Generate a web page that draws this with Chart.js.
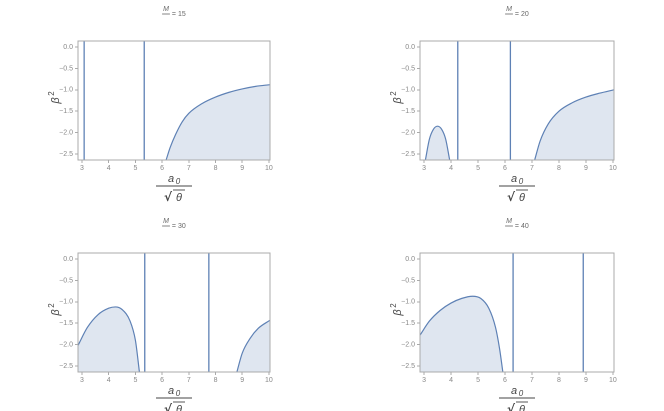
<!DOCTYPE html><html><head><script src="https://cdn.jsdelivr.net/npm/chart.js@4"></script>
<style>body{margin:0;width:664px;height:411px;background:#fff;position:relative}canvas{position:absolute}</style></head><body>
<canvas id="c0" style="left:0;top:0;width:332px;height:205px"></canvas>
<canvas id="c1" style="left:332px;top:0;width:332px;height:205px"></canvas>
<canvas id="c2" style="left:0;top:205px;width:332px;height:206px"></canvas>
<canvas id="c3" style="left:332px;top:205px;width:332px;height:206px"></canvas>
<script>
const xTicks=[3,4,5,6,7,8,9,10];
const yTicks=[0,-0.5,-1,-1.5,-2,-2.5];
const massValues=[15,20,30,40];
const poles15=[3.08,5.33];
const poles20=[4.25,6.2];
const poles30=[5.35,7.75];
const poles40=[6.3,8.9];
const curves15=[[[6.15,-2.64],[6.3,-2.35],[6.5,-2.05],[6.75,-1.75],[7,-1.55],[7.5,-1.32],[8,-1.17],[8.5,-1.06],[9,-0.98],[9.5,-0.92],[10.04,-0.88]]];
const curves20=[[[3.05,-2.64],[3.2,-2.15],[3.35,-1.92],[3.5,-1.85],[3.65,-1.92],[3.8,-2.15],[3.95,-2.64]],
 [[7.1,-2.64],[7.3,-2.2],[7.6,-1.8],[8,-1.5],[8.5,-1.3],[9,-1.17],[9.5,-1.08],[10.04,-1.0]]];
const curves30=[[[2.85,-2.02],[3.2,-1.6],[3.6,-1.3],[4.0,-1.15],[4.25,-1.12],[4.5,-1.18],[4.8,-1.45],[5.0,-1.9],[5.15,-2.64]],
 [[8.8,-2.64],[9.0,-2.2],[9.3,-1.85],[9.6,-1.62],[10.04,-1.43]]];
const curves40=[[[2.85,-1.78],[3.2,-1.45],[3.6,-1.2],[4,-1.03],[4.4,-0.92],[4.8,-0.87],[5.1,-0.92],[5.4,-1.15],[5.65,-1.6],[5.8,-2.1],[5.92,-2.64]]];
const poles=[poles15,poles20,poles30,poles40];
const curves=[curves15,curves20,curves30,curves40];
const XMIN=2.85,XMAX=10.04,YMIN=-2.64,YMAX=0.14;
const pads=[{l:78,r:62,t:41,b:45},{l:88,r:50,t:41,b:45},{l:78,r:62,t:48,b:39},{l:88,r:50,t:48,b:39}];
const LINE='#5e81b5',FILL='rgba(94,129,181,0.2)',GREY='#888';
function frac(ctx,num,den,x,y,size,col){ctx.fillStyle=col;ctx.strokeStyle=col;ctx.textAlign='center';ctx.textBaseline='alphabetic';
 ctx.font='italic '+size+'px "Liberation Sans"';const w=Math.max(ctx.measureText(num).width,ctx.measureText(den).width)+2;
 ctx.fillText(num,x,y-3);ctx.beginPath();ctx.lineWidth=0.8;ctx.moveTo(x-w/2,y);ctx.lineTo(x+w/2,y);ctx.stroke();return w;}
for(let i=0;i<4;i++){
 const ds=[];
 curves[i].forEach(c=>ds.push({data:c.map(p=>({x:p[0],y:p[1]})),borderColor:LINE,backgroundColor:FILL,fill:'start',borderWidth:1.2,pointRadius:0,tension:0.4,cubicInterpolationMode:'monotone'}));
 poles[i].forEach(p=>ds.push({data:[{x:p,y:YMIN},{x:p,y:YMAX}],borderColor:LINE,borderWidth:1.3,pointRadius:0,fill:false}));
 const P=pads[i];
 new Chart(document.getElementById('c'+i),{type:'scatter',data:{datasets:ds.map(d=>({...d,showLine:true}))},
 options:{animation:false,responsive:false,devicePixelRatio:2,layout:{padding:{top:P.t,right:P.r,left:0,bottom:0}},
 plugins:{legend:{display:false},tooltip:{enabled:false}},
 scales:{x:{type:'linear',min:XMIN,max:XMAX,afterBuildTicks:a=>{a.ticks=xTicks.map(v=>({value:v}))},afterFit:a=>{a.height=P.b},
   grid:{drawOnChartArea:false,tickLength:3,color:'#aaa'},border:{color:'#aaa'},ticks:{font:{size:7},color:GREY,padding:1,maxRotation:0}},
  y:{type:'linear',min:YMIN,max:YMAX,afterBuildTicks:a=>{a.ticks=yTicks.map(v=>({value:v}))},afterFit:a=>{a.width=P.l},
   grid:{drawOnChartArea:false,tickLength:3,color:'#aaa'},border:{color:'#aaa'},ticks:{font:{size:7},color:GREY,padding:2,callback:v=>(v<0?'−':'')+Math.abs(v).toFixed(1)}}}},
 plugins:[{id:'deco',afterDraw(ch){const c=ch.ctx,a=ch.chartArea;c.save();
  c.strokeStyle='#aaa';c.lineWidth=1;c.strokeRect(a.left,a.top,a.right-a.left,a.bottom-a.top);
  const cx=(a.left+a.right)/2;
  // title
  const ty=a.top-27;
  const w=frac(c,'M','θ',cx-8,ty,7,'#666');
  c.textAlign='left';c.font='7px "Liberation Sans"';c.textBaseline='middle';c.fillText('= '+massValues[i],cx-8+w/2+2,ty);
  // x label
  const xy=a.bottom+26;
  c.fillStyle='#444';c.strokeStyle='#444';c.textAlign='center';c.font='italic 11px "Liberation Sans"';c.textBaseline='alphabetic';
  c.fillText('a',cx-3,xy-4);c.font='italic 8px "Liberation Sans"';c.fillText('0',cx+4,xy-2);
  c.beginPath();c.lineWidth=0.9;c.moveTo(cx-18,xy);c.lineTo(cx+18,xy);c.stroke();
  c.font='bold 12px "DejaVu Sans"';c.fillText('√',cx-6,xy+15);c.font='italic 11px "Liberation Sans"';c.fillText('θ',cx+5,xy+15);
  c.beginPath();c.moveTo(cx-1,xy+4);c.lineTo(cx+11,xy+4);c.stroke();
  // y label
  c.translate(a.left-23,(a.top+a.bottom)/2);c.rotate(-Math.PI/2);c.font='italic 11px "Liberation Sans"';c.fillText('β',0,4);c.font='8px "Liberation Sans"';c.fillText('2',7,-1);
  c.restore();}}]});
}
</script></body></html>
